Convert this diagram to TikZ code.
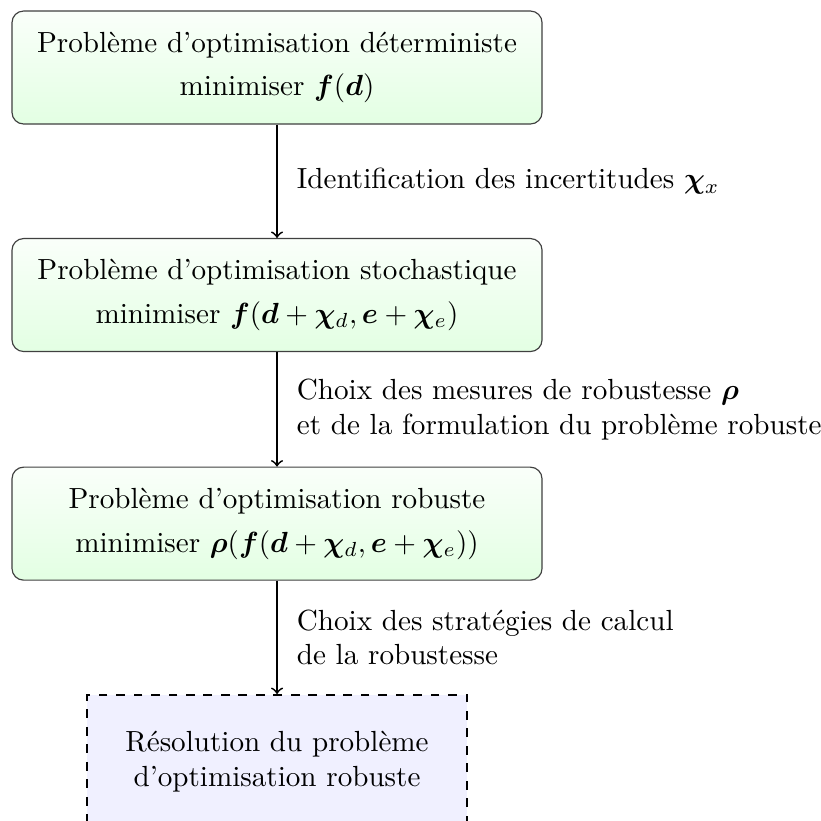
\documentclass[tikz,border=0pt]{standalone}
\usepackage{amsmath}
\usepackage{bm}
\usepackage{fontspec}

\tikzset{
  probbox/.style={draw=black!75, rounded corners=4pt, top color=green!2!white, bottom color=green!11!white,
    minimum width=182pt, minimum height=38.8pt, align=center, inner sep=0pt},
  resbox/.style={draw=black, dashed, semithick, fill=blue!6, minimum width=130.5pt, minimum height=46pt,
    align=center, inner sep=0pt},
  flow/.style={->, semithick},
  steplabel/.style={right=3.2pt, align=left}
}

\begin{document}
\begin{tikzpicture}
\useasboundingbox (0,0) rectangle (281.9pt,-281.9pt);
\node[probbox] (p1) at (95.12pt,-23.18pt) {Problème d'optimisation déterministe\\[3pt] minimiser $\bm{f}(\bm{d})$};
\node[probbox] (p2) at (95.12pt,-101.3pt) {Problème d'optimisation stochastique\\[3pt] minimiser $\bm{f}(\bm{d}+\bm{\chi}_d,\bm{e}+\bm{\chi}_e)$};
\node[probbox] (p3) at (95.12pt,-179.8pt) {Problème d'optimisation robuste\\[3pt] minimiser $\bm{\rho}(\bm{f}(\bm{d}+\bm{\chi}_d,\bm{e}+\bm{\chi}_e))$};
\node[resbox, anchor=north] (p4) at (95.12pt,-238.3pt) {Résolution du problème\\ d'optimisation robuste};
\draw[flow] (p1) -- node[steplabel] {Identification des incertitudes $\bm{\chi}_x$} (p2);
\draw[flow] (p2) -- node[steplabel] {Choix des mesures de robustesse $\bm{\rho}$\\ et de la formulation du problème robuste} (p3);
\draw[flow] (p3) -- node[steplabel] {Choix des stratégies de calcul\\ de la robustesse} (p4);
\end{tikzpicture}
\end{document}
